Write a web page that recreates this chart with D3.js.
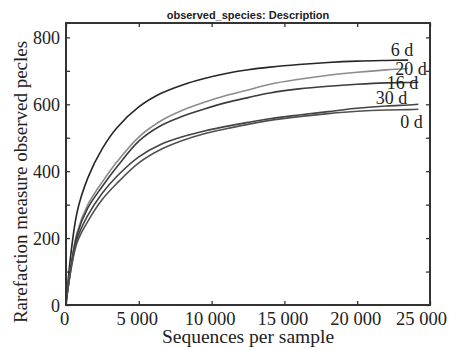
<!doctype html>
<html lang="en">
<head>
  <meta charset="utf-8">
  <title>observed_species rarefaction</title>
  <style>
    body { margin: 0; background: #fff; }
    svg { display: block; }
    .tick-label { font-family: 'Liberation Serif', 'Times New Roman', serif; fill: #222; }
  </style>
</head>
<body>
  <script src="https://cdn.jsdelivr.net/npm/d3@7/dist/d3.min.js"></script>
  <script>
    // sequences per sample (rarefaction depths)
    var depths = [10, 750, 1500, 2500, 3500, 5000, 6500, 8000, 9500, 11000, 12500, 14000, 16000, 18000, 20000, 22000, 23500, 24200]

    var seriesNames = ['6 d', '20 d', '16 d', '30 d', '0 d']

    // observed species per depth, one array per sample group (null = not sampled)
    var obs6d  = [12, 275, 380, 468, 530, 592, 632, 658, 677, 692, 703, 711, 719, 725, 729, 731, 732, null]
    var obs20d = [10, 215, 300, 368, 428, 502, 550, 582, 606, 626, 643, 660, 675, 687, 696, 703, 707, null]
    var obs16d = [10, 208, 290, 355, 413, 490, 536, 564, 586, 605, 620, 634, 646, 654, 660, 664, 665, 666]
    var obs30d = [8, 195, 268, 335, 385, 443, 480, 503, 520, 534, 546, 557, 568, 578, 588, 595, 598, 600]
    var obs0d  = [8, 185, 250, 316, 364, 425, 465, 492, 512, 527, 540, 552, 563, 572, 579, 583, 584, 585]

    var xTicks = [0, 5000, 10000, 15000, 20000, 25000]
    var yTicks = [0, 200, 400, 600, 800]

    var seriesValues = [obs6d, obs20d, obs16d, obs30d, obs0d]
    var lineColors = ['#262626', '#8c8c8c', '#3c3c3c', '#444', '#505050']
    // where each end label sits relative to the end of its line
    var labelOffsets = [[5, -4, 'end'], [-13, 6.5, 'start'], [0, 7, 'end'], [-11, 0, 'end'], [-18, 19, 'start']]

    var W = 449, H = 350
    var margin = { left: 66, right: 19, top: 23, bottom: 45 }
    var width = W - margin.left - margin.right
    var height = H - margin.top - margin.bottom

    var svg = d3.select('body').append('svg')
      .attr('width', W)
      .attr('height', H)

    var g = svg.append('g')
      .attr('transform', 'translate(' + margin.left + ',' + margin.top + ')')

    var x = d3.scaleLinear().domain([0, 25000]).range([0, width])
    var y = d3.scaleLinear().domain([0, 843]).range([height, 0])

    var line = d3.line()
      .x(function(d) { return x(d[0]) })
      .y(function(d) { return y(d[1]) })
      .curve(d3.curveCatmullRom.alpha(0.5))

    var series = seriesNames.map(function(name, i) {
      return {
        name: name,
        pts: depths.map(function(dp, j) { return [dp, seriesValues[i][j]] }).filter(function(p) { return p[1] != null })
      }
    })

    g.selectAll('.curve')
      .data(series)
      .enter().append('path')
        .attr('class', 'curve')
        .attr('d', function(d) { return line(d.pts) })
        .style('fill', 'none')
        .style('stroke', function(d, i) { return lineColors[i] })
        .style('stroke-width', 1.6)

    g.selectAll('.end-label')
      .data(series)
      .enter().append('text')
        .attr('class', 'end-label tick-label')
        .attr('x', function(d, i) { return x(d.pts[d.pts.length - 1][0]) + labelOffsets[i][0] })
        .attr('y', function(d, i) { return y(d.pts[d.pts.length - 1][1]) + labelOffsets[i][1] })
        .attr('text-anchor', function(d, i) { return labelOffsets[i][2] })
        .style('font-size', '18px')
        .text(function(d) { return d.name })

    // ticks pointing inward on all four sides
    var fmt = function(d) { return d3.format(',')(d).replace(',', ' ') }

    var xBottom = g.append('g')
      .attr('transform', 'translate(0,' + height + ')')
      .call(d3.axisBottom(x).tickValues(xTicks).tickSize(-4).tickFormat(fmt))
    xBottom.selectAll('text')
      .attr('class', 'tick-label')
      .attr('y', 20)
      .attr('dy', 0)
      .style('font-size', '18.5px')
      .attr('dx', function(d) { return d === 25000 ? -9 : -2 })

    g.append('g')
      .call(d3.axisTop(x).tickValues(xTicks).tickSize(-4).tickFormat(''))

    var yLeft = g.append('g')
      .call(d3.axisLeft(y).tickValues(d3.range(0, 801, 100)).tickSize(-4)
        .tickFormat(function(d) { return yTicks.indexOf(d) >= 0 ? d : '' }))
    yLeft.selectAll('text')
      .attr('class', 'tick-label')
      .attr('x', -6)
      .attr('dy', '0.36em')
      .style('font-size', '18px')

    g.append('g')
      .attr('transform', 'translate(' + width + ',0)')
      .call(d3.axisRight(y).tickValues(d3.range(0, 801, 100)).tickSize(-4).tickFormat(''))

    g.selectAll('.domain').remove()
    g.selectAll('.tick line').style('stroke', '#333').style('stroke-width', 1.3)

    g.append('rect')
      .attr('width', width)
      .attr('height', height)
      .style('fill', 'none')
      .style('stroke', '#333')
      .style('stroke-width', 2)

    svg.append('text')
      .attr('x', margin.left + width / 2)
      .attr('y', 19)
      .attr('text-anchor', 'middle')
      .style('font-family', "'Liberation Sans', Arial, sans-serif")
      .style('font-weight', 'bold')
      .style('font-size', '11px')
      .style('fill', '#222')
      .text('observed_species: Description')

    svg.append('text')
      .attr('class', 'tick-label')
      .attr('x', margin.left + width / 2)
      .attr('y', 343)
      .attr('text-anchor', 'middle')
      .style('font-size', '19.5px')
      .text('Sequences per sample')

    svg.append('text')
      .attr('class', 'tick-label')
      .attr('transform', 'translate(27,' + (margin.top + height / 2 + 18) + ') rotate(-90)')
      .attr('text-anchor', 'middle')
      .style('font-size', '19px')
      .text('Rarefaction measure observed pecles')
  </script>
</body>
</html>
